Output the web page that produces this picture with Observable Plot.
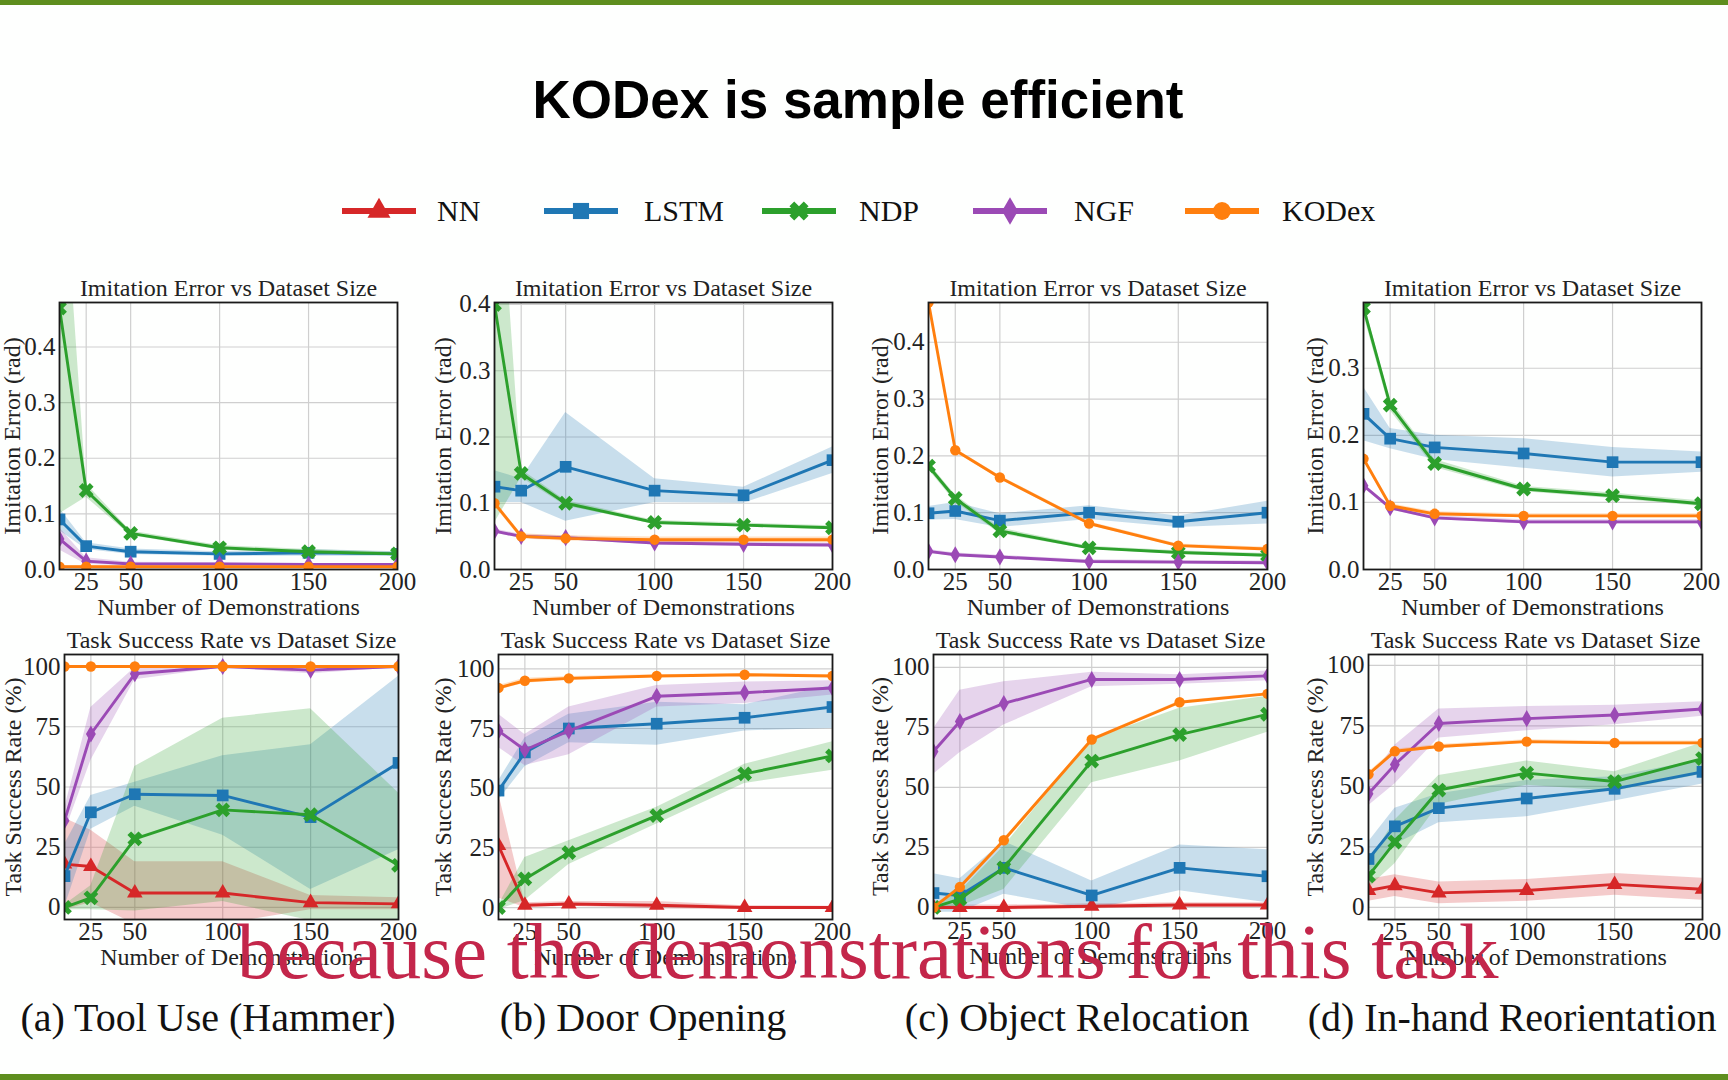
<!DOCTYPE html>
<html><head><meta charset="utf-8">
<script src="https://cdn.jsdelivr.net/npm/d3@7"></script>
<script src="https://cdn.jsdelivr.net/npm/@observablehq/plot@0.6"></script>
<style>
html,body{margin:0;padding:0;background:#fefffe;}
#page{position:relative;width:1728px;height:1080px;overflow:hidden;background:#fefffe;}
.bar{position:absolute;left:0;width:1728px;background:#5e8e1e;}
</style></head>
<body><div id="page"></div>
<script>
// ---------- data ----------
const xs = [10, 25, 50, 100, 150, 200];
const xTicks = [25, 50, 100, 150, 200];
const methods = ["NN", "LSTM", "NDP", "NGF", "KODex"];
const methodColors = ["#d62728", "#1f77b4", "#2ca02c", "#9b4ab5", "#ff7f0e"];
const errTicks = [0, 0.1, 0.2, 0.3, 0.4];
const rateTicks = [0, 25, 50, 75, 100];
const errTitle = "Imitation Error vs Dataset Size";
const rateTitle = "Task Success Rate vs Dataset Size";
const errLabel = "Imitation Error (rad)";
const rateLabel = "Task Success Rate (%)";
const xLabel = "Number of Demonstrations";
const taskCaptions = ["(a) Tool Use (Hammer)", "(b) Door Opening", "(c) Object Relocation", "(d) In-hand Reorientation"];
const mainTitle = "KODex is sample efficient";
const subtitleText = "because the demonstrations for this task";

// imitation error (rad): mean and std per method
const hammerErrMean = {LSTM:[0.090,0.042,0.032,0.028,0.030,0.028], NDP:[0.470,0.142,0.065,0.039,0.032,0.028], NGF:[0.055,0.015,0.010,0.010,0.009,0.009], KODex:[0.005,0.005,0.005,0.005,0.005,0.005]};
const hammerErrSd   = {LSTM:[0.020,0.006,0.005,0.004,0.006,0.004], NDP:[0.370,0.012,0.004,0.004,0.004,0.003], NGF:[0.020,0.006,0.003,0.002,0.002,0.002], KODex:[0.002,0.002,0.002,0.002,0.002,0.002]};
const doorErrMean = {LSTM:[0.125,0.119,0.155,0.119,0.112,0.165], NDP:[0.400,0.145,0.100,0.071,0.067,0.063], NGF:[0.058,0.050,0.048,0.040,0.038,0.037], KODex:[0.100,0.050,0.047,0.045,0.045,0.045]};
const doorErrSd   = {LSTM:[0.024,0.018,0.082,0.018,0.012,0.020], NDP:[0.330,0.006,0.004,0.003,0.003,0.003], NGF:[0.003,0.003,0.003,0.003,0.003,0.003], KODex:[0.004,0.004,0.004,0.004,0.004,0.004]};
const relocErrMean = {LSTM:[0.099,0.103,0.086,0.100,0.084,0.100], NDP:[0.182,0.125,0.068,0.038,0.030,0.025], NGF:[0.032,0.026,0.022,0.014,0.013,0.012], KODex:[0.470,0.210,0.162,0.081,0.042,0.036]};
const relocErrSd   = {LSTM:[0.012,0.015,0.012,0.012,0.010,0.020], NDP:[0.006,0.006,0.005,0.003,0.003,0.003], NGF:[0.003,0.003,0.003,0.003,0.003,0.003], KODex:[0.003,0.003,0.003,0.003,0.003,0.003]};
const reorErrMean = {LSTM:[0.232,0.195,0.182,0.173,0.160,0.160], NDP:[0.390,0.245,0.158,0.120,0.110,0.098], NGF:[0.125,0.092,0.077,0.071,0.071,0.071], KODex:[0.165,0.095,0.083,0.080,0.080,0.080]};
const reorErrSd   = {LSTM:[0.040,0.015,0.018,0.022,0.022,0.015], NDP:[0.010,0.008,0.006,0.004,0.004,0.004], NGF:[0.003,0.003,0.003,0.003,0.003,0.003], KODex:[0.003,0.003,0.003,0.003,0.003,0.003]};

// task success rate (%): mean and std per method
const hammerRateMean = {NN:[18,17,6,6,2,1.5], LSTM:[13,39.5,47,46.5,37.5,60], NDP:[0,4,28.5,40.5,38.5,17.5], NGF:[36,72,97,100,98.5,100], KODex:[100,100,100,100,100,100]};
const hammerRateSd   = {NN:[19,15,13,13,3,2.5], LSTM:[13,7,5,16.5,30,36], NDP:[1,5,30,38,44,30], NGF:[5,11,2.5,0.5,1.5,0.5], KODex:[0.3,0.3,0.3,0.3,0.3,0.3]};
const doorRateMean = {NN:[26,1,1.5,1,0,0], LSTM:[49,65,75,77,79.5,84], NDP:[0,12,23,38.5,56,63.5], NGF:[74,66,74,88.5,90,92], KODex:[92,95,96,97,97.5,97]};
const doorRateSd   = {NN:[22,1,1,1.5,0.8,0.5], LSTM:[4,6,6,9,5.5,9], NDP:[1,9,5,3.5,4,6], NGF:[7,6.5,10,4.5,4.5,3], KODex:[1,1,0.8,0.5,0.5,0.5]};
const relocRateMean = {NN:[0,0,0,0.5,1,1], LSTM:[6,5,16.5,5,16.5,13], NDP:[0,3.5,16.5,61,72,80.5], NGF:[65,77.5,85,95,95,96.5], KODex:[0,8.5,28,70,85.5,89]};
const relocRateSd   = {NN:[1,1,1,1,1,1], LSTM:[8,7,11,6,9.5,11], NDP:[0.5,3,9,9,11,7.5], NGF:[9.5,13,9,3,2,2], KODex:[0.5,0.5,0.5,0.5,0.5,0.5]};
const reorRateMean = {NN:[7,9,6,7,9.5,7.5], LSTM:[20,33.5,41,45,49,56], NDP:[13,27,48.5,55.5,52,61.5], NGF:[47,59,76,78,79.5,82], KODex:[55,64.5,66.5,68.5,68,68]};
const reorRateSd   = {NN:[4.5,4.5,4.5,4.5,4.5,4.5], LSTM:[7,7.5,6,7.5,5,5], NDP:[5,9,6,5,4,6.5], NGF:[5,8,6,5,4,3], KODex:[0.8,0.8,0.8,0.8,0.8,0.8]};

// ---------- layout ----------
const page = document.getElementById("page");
const FONT = "'Liberation Serif', 'Times New Roman', serif";

const symbolX = {
  draw(context, size) {
    const r = Math.sqrt(size / 5) / 2;
    const pts = [[-3,-1],[-1,-1],[-1,-3],[1,-3],[1,-1],[3,-1],[3,1],[1,1],[1,3],[-1,3],[-1,1],[-3,1]];
    const c = Math.SQRT1_2;
    pts.forEach(([a, b], i) => {
      const x = (a - b) * c * r, y = (a + b) * c * r;
      if (i) context.lineTo(x, y); else context.moveTo(x, y);
    });
    context.closePath();
  }
};
const methodSymbols = ["triangle", "square", symbolX, "diamond", "circle"];
const markerR = [5.8, 6.6, 6.6, 5.2, 5.2];

const panels = [
  {mean: hammerErrMean, sd: hammerErrSd, domain:[0,0.48], ticks: errTicks, fmt: d3.format(".1f"), title: errTitle, ylabel: errLabel, x:59, y:302, w:338, h:267, ydx:-47},
  {mean: doorErrMean, sd: doorErrSd, domain:[0,0.403], ticks: errTicks, fmt: d3.format(".1f"), title: errTitle, ylabel: errLabel, x:494, y:302, w:338, h:267, ydx:-51},
  {mean: relocErrMean, sd: relocErrSd, domain:[0,0.47], ticks: errTicks, fmt: d3.format(".1f"), title: errTitle, ylabel: errLabel, x:928, y:302, w:339, h:267, ydx:-48},
  {mean: reorErrMean, sd: reorErrSd, domain:[0,0.398], ticks: errTicks, fmt: d3.format(".1f"), title: errTitle, ylabel: errLabel, x:1363, y:302, w:338, h:267, ydx:-48},
  {mean: hammerRateMean, sd: hammerRateSd, domain:[-5,105], ticks: rateTicks, fmt: d3.format("d"), title: rateTitle, ylabel: rateLabel, x:64, y:654, w:334, h:265, ydx:-51},
  {mean: doorRateMean, sd: doorRateSd, domain:[-5,106], ticks: rateTicks, fmt: d3.format("d"), title: rateTitle, ylabel: rateLabel, x:498, y:654, w:334, h:265, ydx:-55},
  {mean: relocRateMean, sd: relocRateSd, domain:[-4.6,105.4], ticks: rateTicks, fmt: d3.format("d"), title: rateTitle, ylabel: rateLabel, x:933, y:654, w:334, h:264, ydx:-53},
  {mean: reorRateMean, sd: reorRateSd, domain:[-5,104.5], ticks: rateTicks, fmt: d3.format("d"), title: rateTitle, ylabel: rateLabel, x:1368, y:654, w:334, h:265, ydx:-53}
];

function drawPanel(p) {
  const ML = 70, MR = 30, MT = 40, MB = 60;
  const bands = [], lines = [];
  methods.forEach((m, k) => {
    const mean = p.mean[m];
    if (!mean) return;
    const sd = p.sd[m];
    const rows = xs.map((x, i) => ({x, y: mean[i], lo: mean[i] - sd[i], hi: mean[i] + sd[i]}));
    bands.push(Plot.areaY(rows, {x: "x", y1: "lo", y2: "hi", fill: methodColors[k], fillOpacity: 0.24, clip: true}));
    lines.push(Plot.line(rows, {x: "x", y: "y", stroke: methodColors[k], strokeWidth: 2.9, clip: true}));
    lines.push(Plot.dot(rows, {x: "x", y: "y", fill: methodColors[k], stroke: "none", symbol: methodSymbols[k], r: markerR[k], clip: true}));
  });
  const ticks = p.ticks.filter(t => t >= p.domain[0] && t <= p.domain[1]);
  const svg = Plot.plot({
    width: p.w + ML + MR,
    height: p.h + MT + MB,
    marginLeft: ML, marginRight: MR, marginTop: MT, marginBottom: MB,
    style: {fontFamily: FONT, fontSize: "25px", color: "#222", background: "transparent", overflow: "visible"},
    x: {domain: [10, 200]},
    y: {domain: p.domain},
    marks: [
      Plot.gridX({ticks: xTicks, stroke: "#cfcfcf", strokeOpacity: 1, strokeWidth: 1.2}),
      Plot.gridY({ticks: ticks, stroke: "#cfcfcf", strokeOpacity: 1, strokeWidth: 1.2}),
      ...bands,
      ...lines,
      Plot.frame({stroke: "#1a1a1a", strokeWidth: 1.8}),
      Plot.axisX({ticks: xTicks, tickSize: 0, tickPadding: 3, fontSize: 25, label: null}),
      Plot.axisY({ticks: ticks, tickSize: 0, tickPadding: 4, fontSize: 25, label: null, tickFormat: p.fmt}),
      Plot.text([p.title], {text: d => d, frameAnchor: "top", dy: -14, fontSize: 24, fill: "#222", textAnchor: "middle", lineAnchor: "middle"}),
      Plot.text([xLabel], {text: d => d, frameAnchor: "bottom", dy: 38, fontSize: 24, fill: "#222", textAnchor: "middle", lineAnchor: "middle"}),
      Plot.text([p.ylabel], {text: d => d, frameAnchor: "left", dx: p.ydx, rotate: -90, fontSize: 24, fill: "#222", textAnchor: "middle", lineAnchor: "middle"})
    ]
  });
  svg.style.position = "absolute";
  svg.style.left = (p.x - ML) + "px";
  svg.style.top = (p.y - MT) + "px";
  svg.style.maxWidth = "none";
  page.appendChild(svg);
}
panels.forEach(drawPanel);

// top / bottom bars
const topBar = document.createElement("div"); topBar.className = "bar"; topBar.style.top = "0px"; topBar.style.height = "5px"; page.appendChild(topBar);
const botBar = document.createElement("div"); botBar.className = "bar"; botBar.style.top = "1074px"; botBar.style.height = "6px"; page.appendChild(botBar);

// overlay text: title, legend, captions, subtitle
const overlay = d3.select(page).append("svg")
  .attr("width", 1728).attr("height", 1080)
  .style("position", "absolute").style("left", "0px").style("top", "0px")
  .style("pointer-events", "none");

overlay.append("text").attr("x", 858).attr("y", 118).attr("text-anchor", "middle")
  .style("font-family", "'Liberation Sans', Arial, sans-serif").style("font-weight", "bold").style("font-size", "53px")
  .attr("fill", "#000").text(mainTitle);

// legend
const legLineX = [342, 544, 762, 973, 1185];
const legTextX = [437, 644, 859, 1074, 1282];
const legSymbols = [d3.symbolTriangle, d3.symbolSquare, symbolX, d3.symbolDiamond, d3.symbolCircle];
const legSizes = [230, 260, 230, 220, 250];
methods.forEach((m, k) => {
  const g = overlay.append("g");
  g.append("line").attr("x1", legLineX[k]).attr("x2", legLineX[k] + 74).attr("y1", 211).attr("y2", 211)
    .attr("stroke", methodColors[k]).attr("stroke-width", 6);
  g.append("path").attr("d", d3.symbol(legSymbols[k], legSizes[k])())
    .attr("transform", `translate(${legLineX[k] + 37},211)`).attr("fill", methodColors[k]);
  g.append("text").attr("x", legTextX[k]).attr("y", 221)
    .style("font-family", FONT).style("font-size", "30px").attr("fill", "#111").text(m);
});

// captions
const capX = [208, 643, 1077, 1512];
taskCaptions.forEach((c, i) => {
  overlay.append("text").attr("x", capX[i]).attr("y", 1031).attr("text-anchor", "middle")
    .style("font-family", FONT).style("font-size", "40px").attr("fill", "#111").text(c);
});

// red subtitle overlay
overlay.append("text").attr("x", 237).attr("y", 978)
  .style("font-family", FONT).style("font-size", "79px").attr("fill", "#c3264a").text(subtitleText);
</script>
</body></html>
